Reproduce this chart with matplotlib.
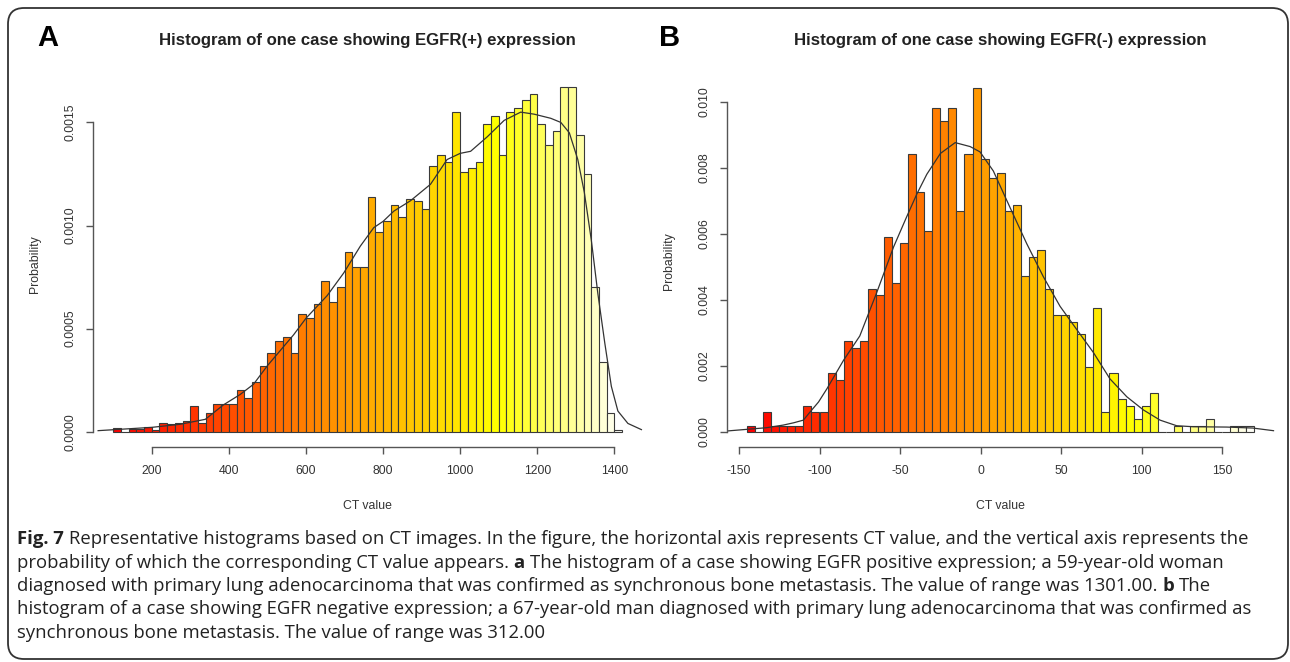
import colorsys

import matplotlib
matplotlib.use("Agg")
import matplotlib.pyplot as plt
import numpy as np
from matplotlib.patches import FancyBboxPatch
from matplotlib.transforms import IdentityTransform

# %% data
# panel A: bins of 20 starting at 100
a_start, a_width = 100, 20
a_prob = [0.000016, 0.0, 0.000013, 0.000013, 0.000023, 0.000008, 0.000044, 0.000039,
          0.000044, 0.000052, 0.000125, 0.00004, 0.000089, 0.000133, 0.000133, 0.000133,
          0.0002, 0.000165, 0.00024, 0.00032, 0.00038, 0.00044, 0.00046, 0.00038,
          0.00057, 0.00055, 0.00062, 0.00073, 0.00063, 0.0007, 0.00087, 0.0008,
          0.0008, 0.00114, 0.00097, 0.00102, 0.0011, 0.00104, 0.00113, 0.00112,
          0.00108, 0.00129, 0.00134, 0.00131, 0.00155, 0.00126, 0.00128, 0.00131,
          0.00149, 0.00153, 0.00134, 0.00155, 0.00157, 0.00161, 0.00164, 0.00149,
          0.00139, 0.00146, 0.00167, 0.00167, 0.00144, 0.00125, 0.0007, 0.00034,
          0.000089, 0.00001]
a_dens_x = [61, 200, 274, 339, 386, 429, 464, 500, 568, 600, 655, 698, 741, 776, 800,
            828, 871, 923, 966, 1000, 1027, 1070, 1114, 1157, 1192, 1235, 1261, 1283,
            1305, 1322, 1340, 1357, 1375, 1392, 1409, 1435, 1470]
a_dens_y = [0.000005, 0.000021, 0.000036, 0.00006, 0.00013, 0.00018, 0.00023, 0.00032,
            0.00047, 0.00055, 0.00066, 0.00077, 0.0009, 0.00099, 0.00102, 0.00107,
            0.00112, 0.0012, 0.00132, 0.00135, 0.00136, 0.00143, 0.00151, 0.00155,
            0.00154, 0.00152, 0.0015, 0.00145, 0.00132, 0.00116, 0.00093, 0.00067,
            0.00043, 0.00022, 0.0001, 0.00004, 0.00001]
a_xticks = [200, 400, 600, 800, 1000, 1200, 1400]
a_yticks = [0.0, 0.0005, 0.0010, 0.0015]
a_ylabels = ["0.0000", "0.0005", "0.0010", "0.0015"]

# panel B: bins of 5 starting at -145
b_start, b_width = -145, 5
b_prob = [0.00018, 0.0, 0.00059, 0.00018, 0.00018, 0.00018, 0.00018, 0.00078,
          0.00059, 0.00059, 0.00177, 0.00157, 0.00275, 0.00255, 0.00275, 0.00433,
          0.00413, 0.00591, 0.0045, 0.00571, 0.00843, 0.00727, 0.00608, 0.00982,
          0.00941, 0.00982, 0.00669, 0.00843, 0.01041, 0.00825, 0.00768, 0.00785,
          0.00669, 0.00687, 0.00473, 0.0053, 0.0055, 0.00433, 0.00353, 0.00353,
          0.00333, 0.00295, 0.00197, 0.00374, 0.00059, 0.00177, 0.00098, 0.00078,
          0.00038, 0.00078, 0.00116, 0.0, 0.0, 0.00018, 0.0, 0.00018,
          0.00018, 0.00038, 0.0, 0.0, 0.00018, 0.00018, 0.00018]
b_dens_x = [-157.7, -133, -122.5, -116, -110, -105.8, -100.6, -95.4, -85, -75, -64.6,
            -54, -46, -39.6, -33.4, -25, -15.8, -6.5, -0.4, 7.9, 18.2, 28.6, 38.9,
            49.3, 59.6, 70, 80.3, 90.7, 101, 111.4, 121.7, 132, 152.8, 169, 181.8]
b_dens_y = [0.00002, 0.00012, 0.0002, 0.00027, 0.00035, 0.0006, 0.0009, 0.0013,
            0.00217, 0.0029, 0.0042, 0.0056, 0.0065, 0.0072, 0.0078, 0.00843, 0.00876,
            0.00864, 0.00848, 0.0079, 0.0068, 0.0057, 0.0047, 0.0038, 0.0031, 0.0024,
            0.0016, 0.00106, 0.00066, 0.00035, 0.00018, 0.00015, 0.00014, 0.00011,
            0.00003]
b_xticks = [-150, -100, -50, 0, 50, 100, 150]
b_yticks = [0.0, 0.002, 0.004, 0.006, 0.008, 0.010]
b_ylabels = ["0.000", "0.002", "0.004", "0.006", "0.008", "0.010"]

titles = ["Histogram of one case showing EGFR(+) expression",
          "Histogram of one case showing EGFR(-) expression"]

caption = [
    [("Fig. 7", "bold"), ("Representative histograms based on CT images. In the figure, the horizontal "
                          "axis represents CT value, and the vertical axis represents the", "normal")],
    [("probability of which the corresponding CT value appears.", "normal"), ("a", "bold"),
     ("The histogram of a case showing EGFR positive expression; a 59-year-old woman", "normal")],
    [("diagnosed with primary lung adenocarcinoma that was confirmed as synchronous bone "
      "metastasis. The value of range was 1301.00.", "normal"), ("b", "bold"), ("The", "normal")],
    [("histogram of a case showing EGFR negative expression; a 67-year-old man diagnosed "
      "with primary lung adenocarcinoma that was confirmed as", "normal")],
    [("synchronous bone metastasis. The value of range was 312.00", "normal")],
]

# %%
W, H = 1290, 662
plt.rcParams["font.family"] = ["Liberation Sans", "DejaVu Sans"]
plt.rcParams["axes.unicode_minus"] = False
fig = plt.figure(figsize=(W / 100, H / 100), dpi=100)


def heat_colors(n):
    # same ramp as R's heat.colors()
    j = n // 4
    i = n - j
    cols = [colorsys.hsv_to_rgb(h, 1, 1) for h in np.linspace(0, 1 / 6, i)]
    if j:
        cols += [colorsys.hsv_to_rgb(1 / 6, s, 1)
                 for s in np.linspace(1 - 1 / (2 * j), 1 / (2 * j), j)]
    return cols


def panel(box, start, width, prob, dx, dy, xticks, yticks, ylabels, xlim, ylim,
          title, ylab_right):
    l, t, r, b = box
    ax = fig.add_axes([l / W, 1 - b / H, (r - l) / W, (b - t) / H])
    ax.patch.set_alpha(0)
    edges = start + width * np.arange(len(prob))
    ax.bar(edges, prob, width=width, align="edge", color=heat_colors(len(prob)),
           edgecolor="#3a3a3a", linewidth=0.8)
    ax.plot(dx, dy, color="#333333", lw=0.9)
    ax.set_xlim(xlim)
    ax.set_ylim(ylim)
    for s in ["top", "right"]:
        ax.spines[s].set_visible(False)
    ax.spines["left"].set_bounds(yticks[0], yticks[-1])
    ax.spines["bottom"].set_bounds(xticks[0], xticks[-1])
    for s in ["left", "bottom"]:
        ax.spines[s].set_color("#555555")
        ax.spines[s].set_linewidth(1.0)
    ax.set_xticks(xticks)
    ax.set_yticks(yticks, labels=ylabels)
    ax.tick_params(length=5, width=1.0, color="#555555", labelsize=8.8,
                   labelcolor="#333333", pad=8)
    ax.tick_params(axis="y", labelrotation=90, pad=7)
    for lab in ax.get_yticklabels():
        lab.set_va("center")
    ax.set_xlabel("CT value", fontsize=8.8, color="#333333")
    ax.xaxis.set_label_coords(0.5, -(500 - b) / (b - t))
    ax.set_ylabel("Probability", fontsize=8.8, color="#333333")
    ax.yaxis.set_label_coords(-(l - ylab_right) / (r - l), 0.5)
    fig.text((l + r) / 2 / W, 1 - 40 / H, title, ha="center", va="center",
             fontsize=12.1, fontweight="bold", color="#222222")
    return ax


panel((92.8, 81.2, 642.5, 446.7), a_start, a_width, a_prob, a_dens_x, a_dens_y,
      a_xticks, a_yticks, a_ylabels, (47.2, 1472.8), (-0.0000728, 0.0017), titles[0], 41)
panel((726.7, 75.3, 1274.8, 446.7), b_start, b_width, b_prob, b_dens_x, b_dens_y,
      b_xticks, b_yticks, b_ylabels, (-157.6, 182.6), (-0.000455, 0.0108), titles[1], 675)

fig.text(37 / W, 1 - 38 / H, "A", fontsize=21, fontweight="bold", va="center", ha="left")
fig.text(659 / W, 1 - 38 / H, "B", fontsize=21, fontweight="bold", va="center", ha="left")

# rounded frame round the whole figure
fig.add_artist(FancyBboxPatch((8, H - 659), 1280, 651,
                              boxstyle="round,pad=0,rounding_size=16",
                              transform=IdentityTransform(), fill=False,
                              ec="#333333", lw=1.3))

# caption, with bold pieces placed one after the other
renderer = fig.canvas.get_renderer()
cap_font = dict(family=["Open Sans", "DejaVu Sans"], fontsize=13.3, color="#222222")
probe = fig.text(0, 0, "a a", **cap_font)
w_aa = fig.text(0, 0, "aa", **cap_font)
space_w = (probe.get_window_extent(renderer).width
           - w_aa.get_window_extent(renderer).width)
probe.remove()
w_aa.remove()

y0, dy_line = 539, 23.5
for n, line in enumerate(caption):
    x = 17
    y = y0 + n * dy_line
    for txt, weight in line:
        t = fig.text(x / W, 1 - y / H, txt, fontweight=weight, va="center", ha="left", **cap_font)
        x = t.get_window_extent(renderer).x1 + space_w

fig.savefig("out.png", dpi=100)
